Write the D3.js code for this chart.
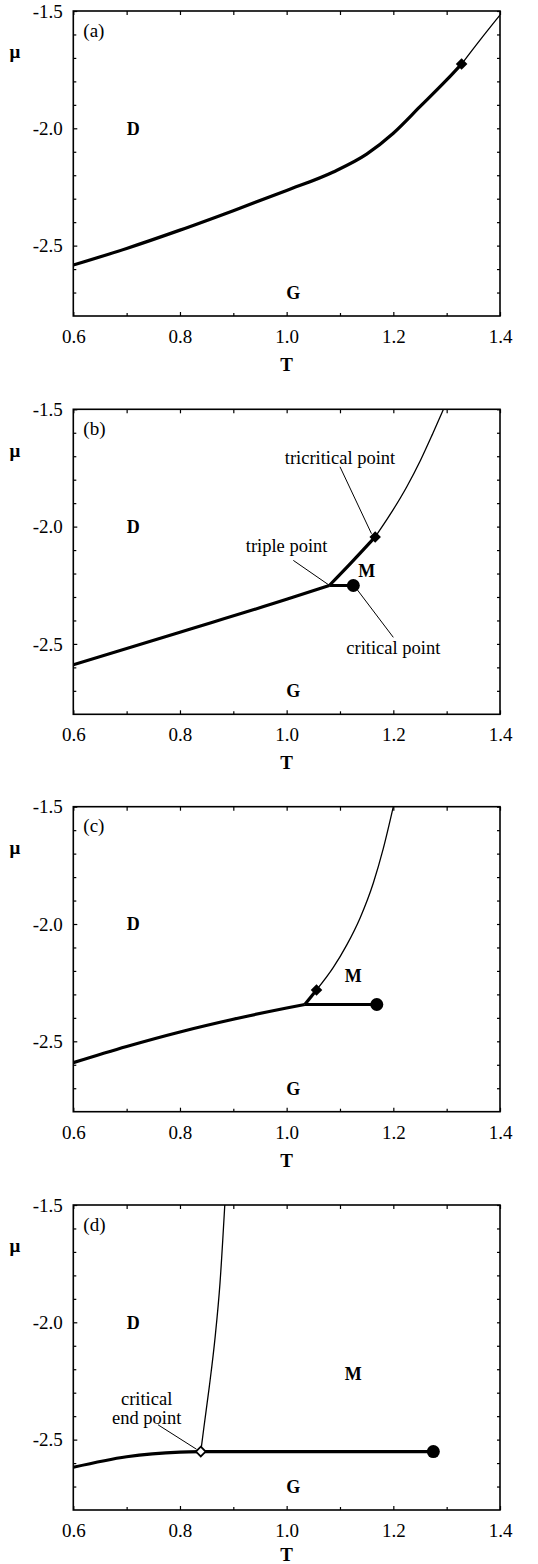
<!DOCTYPE html>
<html>
<head>
<meta charset="utf-8">
<script src="https://cdn.jsdelivr.net/npm/d3@7"></script>
<style>
  body { margin: 0; background: #fff; }
  text { font-family: "Liberation Serif", "Times New Roman", serif; fill: #000; }
</style>
</head>
<body>
<script>
// axes
var tMajor = [0.6, 0.8, 1.0, 1.2, 1.4],
    tMinor = [0.7, 0.9, 1.1, 1.3],
    muMajor = [-2.5, -2.0, -1.5],
    muMinor = [-2.7, -2.6, -2.4, -2.3, -2.2, -2.1, -1.9, -1.8, -1.7, -1.6];

// (a)
var aThick = [[0.6,-2.583],[0.7,-2.512],[0.8,-2.434],[0.9,-2.351],[1.0,-2.265],[1.0875,-2.186],[1.15,-2.11],[1.2,-2.021],[1.25,-1.908],[1.3,-1.794],[1.328,-1.726]];
var aThin = [[1.328,-1.726],[1.3625,-1.624],[1.4,-1.517]];
var aTricritical = [[1.328,-1.726]];

// (b)
var bGasDense = [[0.6,-2.589],[0.8,-2.45],[1.0,-2.31],[1.08,-2.251]];
var bDenseMixed = [[1.08,-2.251],[1.119,-2.159],[1.166,-2.044]];
var bGasMixed = [[1.08,-2.251],[1.125,-2.251]];
var bThin = [[1.166,-2.044],[1.195,-1.945],[1.225,-1.831],[1.251,-1.717],[1.274,-1.603],[1.294,-1.5]];
var bTricritical = [[1.166,-2.044]];
var bCritical = [[1.125,-2.251]];

// (c)
var cGasDense = [[0.6,-2.591],[0.7,-2.522],[0.8,-2.46],[0.9,-2.406],[1.0,-2.358],[1.034,-2.343]];
var cDenseMixed = [[1.034,-2.343],[1.056,-2.281]];
var cGasMixed = [[1.034,-2.343],[1.169,-2.343]];
var cThin = [[1.056,-2.281],[1.0875,-2.185],[1.1125,-2.09],[1.1375,-1.975],[1.1625,-1.825],[1.181,-1.68],[1.2,-1.5]];
var cTricritical = [[1.056,-2.281]];
var cCritical = [[1.169,-2.343]];

// (d)
var dGasDense = [[0.6,-2.618],[0.7,-2.573],[0.8,-2.553],[0.839,-2.551]];
var dGasMixed = [[0.839,-2.551],[1.275,-2.551]];
var dThin = [[0.839,-2.551],[0.845,-2.445],[0.855,-2.274],[0.866,-2.061],[0.875,-1.834],[0.884,-1.5]];
var dEndPoint = [[0.839,-2.551]];
var dCritical = [[1.275,-2.551]];

var panels = [
  {tag: "(a)", thick: [aThick], thin: [aThin], diamonds: aTricritical, open: [], circles: [],
   phases: [["D",0.7125,-2.0],["G",1.0125,-2.70]], notes: [], leaders: []},
  {tag: "(b)", thick: [bGasDense, bDenseMixed, bGasMixed], thin: [bThin], diamonds: bTricritical, open: [], circles: bCritical,
   phases: [["D",0.7125,-2.0],["G",1.0125,-2.70],["M",1.15,-2.187]],
   notes: [["tricritical point",1.1,-1.705],["triple point",1.0,-2.08],["critical point",1.2,-2.515]],
   leaders: [[[1.1,-1.745],[1.159,-2.03]],[[1.0125,-2.144],[1.078,-2.247]],[[1.2,-2.472],[1.131,-2.265]]]},
  {tag: "(c)", thick: [cGasDense, cDenseMixed, cGasMixed], thin: [cThin], diamonds: cTricritical, open: [], circles: cCritical,
   phases: [["D",0.7125,-2.0],["G",1.0125,-2.70],["M",1.125,-2.222]], notes: [], leaders: []},
  {tag: "(d)", thick: [dGasDense, dGasMixed], thin: [dThin], diamonds: [], open: dEndPoint, circles: dCritical,
   phases: [["D",0.7125,-2.0],["G",1.0125,-2.70],["M",1.125,-2.218]],
   notes: [["critical",0.7375,-2.324],["end point",0.7375,-2.405]],
   leaders: [[[0.759,-2.437],[0.831,-2.541]]]}
];

var W = 538, H = 1564,
    left = 73.3, pw = 426.7, ph = 305,
    tops = [11, 409.3, 806.7, 1205];

var svg = d3.select("body").append("svg")
    .attr("width", W)
    .attr("height", H);

var x = d3.scaleLinear().domain([0.6, 1.4]).range([0, pw]);
var y = d3.scaleLinear().domain([-2.8, -1.5]).range([ph, 0]);

var line = d3.line()
    .x(function(d){ return x(d[0]); })
    .y(function(d){ return y(d[1]); })
    .curve(d3.curveMonotoneX);

panels.forEach(function(p, i){
  var g = svg.append("g")
      .attr("transform", "translate(" + left + "," + tops[i] + ")");

  g.append("clipPath").attr("id", "clip" + i)
    .append("rect").attr("width", pw).attr("height", ph);

  // ticks on all four sides, pointing inward
  g.append("g").attr("transform", "translate(0," + ph + ")")
      .call(d3.axisBottom(x).tickValues(tMajor).tickSizeInner(-4).tickSizeOuter(0)
        .tickPadding(13.6).tickFormat(function(d){ return d.toFixed(1); }));
  g.append("g").attr("transform", "translate(0," + ph + ")")
      .call(d3.axisBottom(x).tickValues(tMinor).tickSizeInner(-3).tickSizeOuter(0).tickFormat(""));
  g.append("g").call(d3.axisTop(x).tickValues(tMajor.concat(tMinor)).tickSizeInner(-4).tickSizeOuter(0).tickFormat(""));
  g.append("g")
      .call(d3.axisLeft(y).tickValues(muMajor).tickSizeInner(-4).tickSizeOuter(0)
        .tickPadding(10.6).tickFormat(function(d){ return d.toFixed(1); }));
  g.append("g").call(d3.axisLeft(y).tickValues(muMinor).tickSizeInner(-3).tickSizeOuter(0).tickFormat(""));
  g.append("g").attr("transform", "translate(" + pw + ",0)")
      .call(d3.axisRight(y).tickValues(muMajor.concat(muMinor)).tickSizeInner(-3).tickSizeOuter(0).tickFormat(""));

  g.selectAll(".domain").remove();
  g.selectAll(".tick line").attr("stroke", "#000").attr("stroke-width", 1.2);
  g.selectAll(".tick text").style("font-size", "19px")
    .style("font-family", "'Liberation Serif', serif");

  g.append("rect")
    .attr("width", pw).attr("height", ph)
    .attr("fill", "none").attr("stroke", "#000").attr("stroke-width", 1.6);

  var lines = g.append("g").attr("clip-path", "url(#clip" + i + ")");
  lines.selectAll(".thin").data(p.thin).enter().append("path")
    .attr("d", line).attr("fill", "none").attr("stroke", "#000").attr("stroke-width", 1.3);
  lines.selectAll(".thick").data(p.thick).enter().append("path")
    .attr("d", line).attr("fill", "none").attr("stroke", "#000")
    .attr("stroke-width", 3.2).attr("stroke-linejoin", "round");

  // leader lines
  g.selectAll(".leader").data(p.leaders).enter().append("line")
    .attr("x1", function(d){ return x(d[0][0]); })
    .attr("y1", function(d){ return y(d[0][1]); })
    .attr("x2", function(d){ return x(d[1][0]); })
    .attr("y2", function(d){ return y(d[1][1]); })
    .attr("stroke", "#000").attr("stroke-width", 1);

  g.selectAll(".dia").data(p.diamonds).enter().append("path")
    .attr("d", d3.symbol().type(d3.symbolDiamond2).size(85))
    .attr("transform", function(d){ return "translate(" + x(d[0]) + "," + y(d[1]) + ")"; })
    .attr("fill", "#000");
  g.selectAll(".odia").data(p.open).enter().append("path")
    .attr("d", d3.symbol().type(d3.symbolDiamond2).size(60))
    .attr("transform", function(d){ return "translate(" + x(d[0]) + "," + y(d[1]) + ")"; })
    .attr("fill", "#fff").attr("stroke", "#000").attr("stroke-width", 1.8);
  g.selectAll(".crit").data(p.circles).enter().append("circle")
    .attr("cx", function(d){ return x(d[0]); })
    .attr("cy", function(d){ return y(d[1]); })
    .attr("r", 6.5)
    .attr("fill", "#000");

  g.selectAll(".phase").data(p.phases).enter().append("text")
    .attr("x", function(d){ return x(d[1]); })
    .attr("y", function(d){ return y(d[2]); })
    .attr("dy", "0.35em")
    .attr("text-anchor", "middle")
    .style("font-size", "18px").style("font-weight", "bold")
    .text(function(d){ return d[0]; });

  g.selectAll(".note").data(p.notes).enter().append("text")
    .attr("x", function(d){ return x(d[1]); })
    .attr("y", function(d){ return y(d[2]); })
    .attr("dy", "0.35em")
    .attr("text-anchor", "middle")
    .style("font-size", "18.5px")
    .text(function(d){ return d[0]; });

  g.append("text")
    .attr("x", 10).attr("y", 19).attr("dy", "0.35em")
    .style("font-size", "19px")
    .text(p.tag);

  g.append("text")
    .attr("x", -left + 15).attr("y", 40.7).attr("dy", "0.35em")
    .attr("text-anchor", "middle")
    .style("font-size", "19px").style("font-weight", "bold")
    .text("μ");

  // last T sits right at the page's bottom edge, nudge it up to stay inside
  var tY = Math.min(ph + 48.5, H - tops[i] - 10);
  g.append("text")
    .attr("x", pw / 2).attr("y", tY).attr("dy", "0.35em")
    .attr("text-anchor", "middle")
    .style("font-size", "19px").style("font-weight", "bold")
    .text("T");
});
</script>
</body>
</html>
